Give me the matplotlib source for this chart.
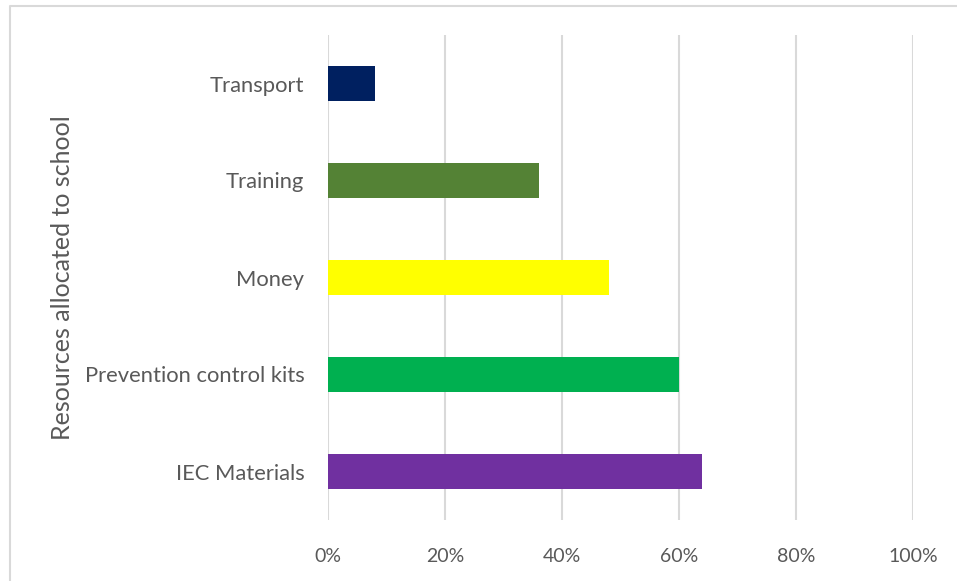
import matplotlib
matplotlib.use("Agg")
import matplotlib.pyplot as plt
from matplotlib.lines import Line2D
from matplotlib.ticker import FuncFormatter

categories = ["IEC Materials", "Prevention control kits", "Money", "Training", "Transport"]
values = [64, 60, 48, 36, 8]
colors = ["#7030A0", "#00B050", "#FFFF00", "#548235", "#002060"]
x_ticks = [0, 20, 40, 60, 80, 100]

plt.rcParams["font.family"] = ["Lato", "DejaVu Sans"]
W, H = 957, 581
fig = plt.figure(figsize=(W / 100, H / 100), dpi=100)
ax = fig.add_axes([328 / W, 1 - 520 / H, (913 - 328) / W, (520 - 35) / H])

ax.barh(range(len(categories)), values, height=0.36, color=colors, zorder=3)
ax.set_ylim(-0.5, len(categories) - 0.5)
ax.set_xlim(0, 100)
ax.set_xticks(x_ticks)
ax.xaxis.set_major_formatter(FuncFormatter(lambda v, p: f"{v:.0f}%"))
ax.set_yticks(range(len(categories)))
ax.set_yticklabels(categories)
ax.grid(axis="x", color="#D9D9D9", linewidth=1.5, zorder=0)
for s in ax.spines.values():
    s.set_visible(False)
ax.tick_params(axis="both", length=0, labelcolor="#595959")
ax.tick_params(axis="x", labelsize=14, pad=20)
ax.tick_params(axis="y", labelsize=15.8, pad=17)
ax.set_ylabel("Resources allocated to school", fontsize=18, color="#595959")
ax.yaxis.set_label_coords(-(328 - 74) / (913 - 328), 0.5)

# chart-area border (top and left edges visible)
bx = 10 / W
by = 1 - 6 / H
fig.add_artist(Line2D([bx, bx, 1.0], [0.0, by, by], transform=fig.transFigure,
                      color="#D9D9D9", linewidth=1.5))

fig.savefig("out.png", dpi=100)
